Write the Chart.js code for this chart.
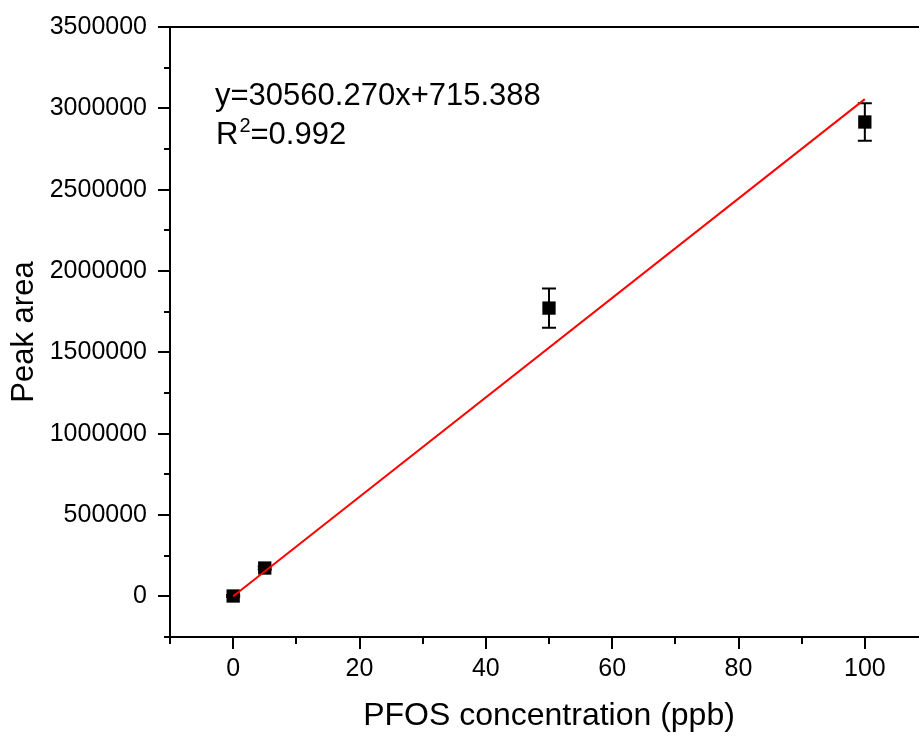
<!DOCTYPE html>
<html>
<head>
<meta charset="utf-8">
<script src="https://cdn.jsdelivr.net/npm/chart.js@4.4.0/dist/chart.umd.min.js"></script>
<style>
  html, body { margin: 0; padding: 0; background: #fff; overflow: hidden; }
  #wrap { width: 919px; height: 738px; overflow: hidden; }
</style>
</head>
<body>
<div id="wrap"><canvas id="calChart" width="940" height="738"></canvas></div>
<script>
// calibration points
const concentrations = [0, 5, 50, 100];
const peakAreas = [2000, 174000, 1772000, 2916000];
const peakErrors = [6000, 9000, 121000, 116000];

// linear fit y=30560.270x+715.388, drawn between its end points
const fitX = [0, 100];
const fitY = [715.388, 3056742.388];

const xMajorTicks = [0, 20, 40, 60, 80, 100];
const xMinorTicks = [-10, 10, 30, 50, 70, 90, 110];
const yMajorTicks = [0, 500000, 1000000, 1500000, 2000000, 2500000, 3000000, 3500000];
const yMinorTicks = [-250000, 250000, 750000, 1250000, 1750000, 2250000, 2750000, 3250000];

const equationText = 'y=30560.270x+715.388';
const r2Text = '=0.992';

const FONT = '"Liberation Sans", Arial, sans-serif';

// error bars under the markers
const errorBars = {
  id: 'errorBars',
  beforeDatasetsDraw(chart) {
    const { ctx, scales: { x, y } } = chart;
    ctx.save();
    ctx.strokeStyle = '#000';
    ctx.lineWidth = 2;
    ctx.beginPath();
    concentrations.forEach((c, i) => {
      const px = x.getPixelForValue(c);
      const top = y.getPixelForValue(peakAreas[i] + peakErrors[i]);
      const bot = y.getPixelForValue(peakAreas[i] - peakErrors[i]);
      ctx.moveTo(px, top); ctx.lineTo(px, bot);
      ctx.moveTo(px - 7, top); ctx.lineTo(px + 7, top);
      ctx.moveTo(px - 7, bot); ctx.lineTo(px + 7, bot);
    });
    ctx.stroke();
    ctx.restore();
  }
};

// box frame plus outward major/minor ticks
const frameAndTicks = {
  id: 'frameAndTicks',
  afterDraw(chart) {
    const { ctx, chartArea: a, scales: { x, y } } = chart;
    ctx.save();
    ctx.strokeStyle = '#000';
    ctx.lineWidth = 2;
    ctx.strokeRect(a.left, a.top, a.right - a.left, a.bottom - a.top);
    ctx.beginPath();
    xMajorTicks.forEach(v => {
      const px = Math.round(x.getPixelForValue(v));
      ctx.moveTo(px, a.bottom); ctx.lineTo(px, a.bottom + 12);
    });
    xMinorTicks.forEach(v => {
      const px = Math.round(x.getPixelForValue(v));
      ctx.moveTo(px, a.bottom); ctx.lineTo(px, a.bottom + 7);
    });
    yMajorTicks.forEach(v => {
      const py = Math.round(y.getPixelForValue(v));
      ctx.moveTo(a.left, py); ctx.lineTo(a.left - 12, py);
    });
    yMinorTicks.forEach(v => {
      const py = Math.round(y.getPixelForValue(v));
      ctx.moveTo(a.left, py); ctx.lineTo(a.left - 6, py);
    });
    ctx.stroke();
    ctx.restore();
  }
};

// fit equation and R^2 text
const equationLabel = {
  id: 'equationLabel',
  afterDraw(chart) {
    const { ctx } = chart;
    ctx.save();
    ctx.fillStyle = '#000';
    ctx.textBaseline = 'alphabetic';
    ctx.textAlign = 'left';
    ctx.font = '31px ' + FONT;
    ctx.fillText(equationText, 215, 105);
    ctx.fillText('R', 216, 144);
    let xpos = 216 + ctx.measureText('R').width;
    ctx.font = '20px ' + FONT;
    ctx.fillText('2', xpos + 1, 132);
    xpos += ctx.measureText('2').width + 1;
    ctx.font = '31px ' + FONT;
    ctx.fillText(r2Text, xpos, 144);
    ctx.restore();
  }
};

new Chart(document.getElementById('calChart'), {
  type: 'scatter',
  data: {
    datasets: [
      {
        label: 'Peak area',
        data: concentrations.map((c, i) => ({ x: c, y: peakAreas[i] })),
        pointStyle: 'rect',
        pointRadius: 9.4,
        backgroundColor: '#000',
        borderColor: '#000',
        borderWidth: 0,
        order: 1
      },
      {
        type: 'line',
        label: 'Linear fit',
        data: fitX.map((v, i) => ({ x: v, y: fitY[i] })),
        borderColor: '#ff0000',
        borderWidth: 2,
        pointRadius: 0,
        fill: false,
        order: 0
      }
    ]
  },
  options: {
    responsive: false,
    animation: false,
    layout: { padding: { left: 0, top: 27, right: 12, bottom: 3 } },
    plugins: {
      legend: { display: false },
      tooltip: { enabled: false }
    },
    scales: {
      x: {
        type: 'linear',
        min: -10,
        max: 110,
        grid: { display: false, drawTicks: false },
        border: { display: false },
        afterBuildTicks: s => { s.ticks = xMajorTicks.map(v => ({ value: v })); },
        afterFit: s => { s.height = 98; s.paddingLeft = 0; s.paddingRight = 0; },
        ticks: { color: '#000', font: { family: FONT, size: 25 }, padding: 17, maxRotation: 0 },
        title: {
          display: true,
          text: 'PFOS concentration (ppb)',
          color: '#000',
          font: { family: FONT, size: 32 },
          padding: { top: 0, bottom: 0 }
        }
      },
      y: {
        type: 'linear',
        min: -250000,
        max: 3500000,
        grid: { display: false, drawTicks: false },
        border: { display: false },
        afterBuildTicks: s => { s.ticks = yMajorTicks.map(v => ({ value: v })); },
        afterFit: s => { s.width = 170; s.paddingTop = 0; s.paddingBottom = 0; },
        ticks: {
          color: '#000',
          font: { family: FONT, size: 25 },
          padding: 23,
          callback: v => String(v)
        },
        title: {
          display: true,
          text: 'Peak area',
          color: '#000',
          font: { family: FONT, size: 31 },
          padding: { top: 6, bottom: 0 }
        }
      }
    }
  },
  plugins: [errorBars, frameAndTicks, equationLabel]
});
</script>
</body>
</html>
